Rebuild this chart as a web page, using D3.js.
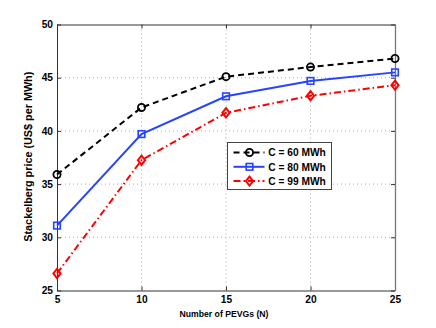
<!DOCTYPE html>
<html>
<head>
<script src="https://cdnjs.cloudflare.com/ajax/libs/d3/7.8.5/d3.min.js"></script>
<style>
  body { margin: 0; background: #fff; }
  svg text { font-family: "Liberation Sans", Arial, sans-serif; font-weight: bold; }
</style>
</head>
<body>
<script>
var pevgs = [5, 10, 15, 20, 25];
var price60 = [35.9, 42.2, 45.1, 46.0, 46.8];
var price80 = [31.1, 39.7, 43.25, 44.7, 45.5];
var price99 = [26.6, 37.25, 41.7, 43.3, 44.3];
var xTicks = [5, 10, 15, 20, 25];
var yTicks = [25, 30, 35, 40, 45, 50];
var seriesNames = ["C = 60 MWh", "C = 80 MWh", "C = 99 MWh"];

var width = 436, height = 328;
var M = {left: 57, top: 24.5, right: 41, bottom: 37.5};

var svg = d3.select("body").append("svg")
    .attr("width", width)
    .attr("height", height);

var x = d3.scaleLinear().domain([5, 25]).range([M.left, width - M.right]);
var y = d3.scaleLinear().domain([25, 50]).range([height - M.bottom, M.top]);

// grid
var grid = svg.append("g");
grid.selectAll(".gx").data(xTicks.slice(1, -1)).enter().append("line")
    .attr("x1", d => x(d)).attr("x2", d => x(d))
    .attr("y1", y(25)).attr("y2", y(50))
    .attr("stroke", "#999").attr("stroke-width", 0.8).attr("stroke-dasharray", "1,3");
grid.selectAll(".gy").data(yTicks.slice(1, -1)).enter().append("line")
    .attr("x1", x(5)).attr("x2", x(25))
    .attr("y1", d => y(d)).attr("y2", d => y(d))
    .attr("stroke", "#999").attr("stroke-width", 0.8).attr("stroke-dasharray", "1,3");

// axes
var xAxis = svg.append("g")
    .attr("transform", "translate(0," + y(25) + ")")
    .call(d3.axisBottom(x).tickValues(xTicks).tickSizeInner(-4).tickSizeOuter(0).tickPadding(5));
var yAxis = svg.append("g")
    .attr("transform", "translate(" + x(5) + ",0)")
    .call(d3.axisLeft(y).tickValues(yTicks).tickSizeInner(-4).tickSizeOuter(0).tickPadding(4));
var xTop = svg.append("g")
    .attr("transform", "translate(0," + y(50) + ")")
    .call(d3.axisTop(x).tickValues(xTicks).tickSizeInner(-4).tickSizeOuter(0).tickFormat(""));
var yRight = svg.append("g")
    .attr("transform", "translate(" + x(25) + ",0)")
    .call(d3.axisRight(y).tickValues(yTicks).tickSizeInner(-4).tickSizeOuter(0).tickFormat(""));
[xAxis, yAxis, xTop, yRight].forEach(function(a) {
  a.selectAll("path, line").attr("stroke", "#333").attr("stroke-width", 1);
  a.selectAll("text").attr("font-size", "10.2px").attr("fill", "#000")
    .style("font-family", "'Liberation Sans', Arial, sans-serif").style("font-weight", "bold");
});
xAxis.select(".domain").attr("stroke", "#777").attr("stroke-width", 1.3);
yRight.select(".domain").attr("stroke", "#777").attr("stroke-width", 1.3);

// labels
svg.append("text")
    .attr("x", 224).attr("y", 316.5)
    .attr("text-anchor", "middle").attr("font-size", "9.8px")
    .attr("textLength", 89).attr("lengthAdjust", "spacingAndGlyphs")
    .text("Number of PEVGs (N)");
svg.append("text")
    .attr("transform", "translate(31.5,156.7) rotate(-90)")
    .attr("text-anchor", "middle").attr("font-size", "10px")
    .attr("textLength", 170).attr("lengthAdjust", "spacingAndGlyphs")
    .text("Stackelberg price (US$ per MWh)");

var series = [
  {name: seriesNames[0], values: price60, color: "#000", dash: "6,4", marker: "circle"},
  {name: seriesNames[1], values: price80, color: "#2644ff", dash: null, marker: "square"},
  {name: seriesNames[2], values: price99, color: "#ff0000", dash: "7,3,1.5,3", marker: "diamond"}
];

var line = d3.line().x((d, i) => x(pevgs[i])).y(d => y(d));

function drawMarker(g, kind, color, cx, cy) {
  if (kind === "circle") {
    g.append("circle").attr("cx", cx).attr("cy", cy).attr("r", 3.6)
      .attr("fill", "none").attr("stroke", color).attr("stroke-width", 1.8);
  } else if (kind === "square") {
    g.append("rect").attr("x", cx - 3.3).attr("y", cy - 3.3).attr("width", 6.6).attr("height", 6.6)
      .attr("fill", "none").attr("stroke", color).attr("stroke-width", 1.6);
  } else {
    g.append("path")
      .attr("d", "M" + cx + "," + (cy - 4.6) + "L" + (cx + 3.6) + "," + cy + "L" + cx + "," + (cy + 4.6) + "L" + (cx - 3.6) + "," + cy + "Z")
      .attr("fill", "none").attr("stroke", color).attr("stroke-width", 2);
  }
}

series.forEach(function(s) {
  svg.append("path").datum(s.values)
    .attr("d", line)
    .attr("fill", "none")
    .attr("stroke", s.color)
    .attr("stroke-width", 2)
    .attr("stroke-dasharray", s.dash);
  var mg = svg.append("g");
  s.values.forEach(function(v, i) { drawMarker(mg, s.marker, s.color, x(pevgs[i]), y(v)); });
});

// legend
var lg = svg.append("g").attr("transform", "translate(227.5,142.5)");
lg.append("rect").attr("width", 104).attr("height", 47)
  .attr("fill", "#fff").attr("stroke", "#444").attr("stroke-width", 1);
series.forEach(function(s, i) {
  var ly = 10 + i * 14.3;
  lg.append("line").attr("x1", 6).attr("x2", 37).attr("y1", ly).attr("y2", ly)
    .attr("stroke", s.color).attr("stroke-width", 2).attr("stroke-dasharray", s.dash);
  drawMarker(lg, s.marker, s.color, 22, ly);
  lg.append("text").attr("x", 40.8).attr("y", ly + 3.7).attr("font-size", "10.2px").text(s.name);
});
</script>
</body>
</html>
